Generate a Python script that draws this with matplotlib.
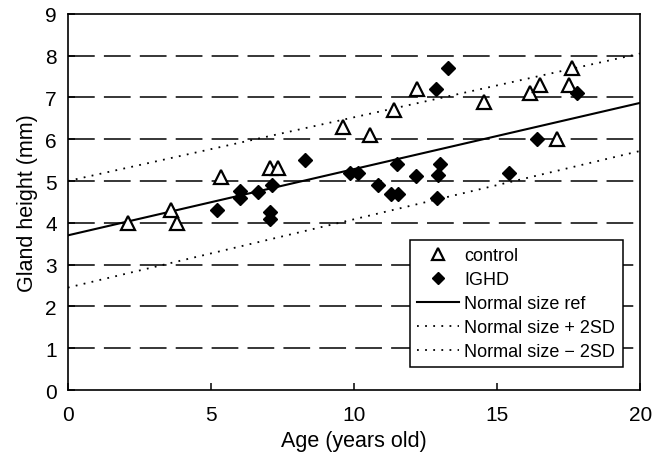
import matplotlib
matplotlib.use("Agg")
import matplotlib.pyplot as plt

plt.rcParams.update({
    "font.family": ["Liberation Sans", "DejaVu Sans"],
    "font.size": 15,
    "axes.linewidth": 1.2,
})

# --- data ---
ctrl_age = [2.1, 3.6, 3.8, 5.35, 7.05, 7.35, 9.6, 10.55, 11.4, 12.2, 14.55, 16.15, 16.5, 17.1, 17.5, 17.6]
ctrl_h   = [4.0, 4.3, 4.0, 5.1, 5.3, 5.3, 6.3, 6.1, 6.7, 7.2, 6.9, 7.1, 7.3, 6.0, 7.3, 7.7]

ighd_age = [5.2, 6.0, 6.0, 6.65, 7.05, 7.05, 7.15, 8.3, 9.85, 10.15, 10.85, 11.3, 11.55,
            11.5, 12.15, 12.9, 12.95, 13.0, 12.85, 13.3, 15.4, 16.4, 17.8]
ighd_h   = [4.3, 4.75, 4.6, 4.73, 4.25, 4.1, 4.9, 5.5, 5.2, 5.2, 4.9, 4.7, 4.7,
            5.4, 5.12, 4.6, 5.15, 5.4, 7.2, 7.7, 5.2, 6.0, 7.1]

ref_x = [0, 20]
ref_y = [3.7, 6.87]
plus_x = [0, 20]
plus_y = [5.0, 8.05]
minus_x = [0, 20]
minus_y = [2.45, 5.72]

fig = plt.figure(figsize=(6.52, 4.56), dpi=100)
ax = fig.add_axes([0.104, 0.1425, 0.878, 0.825])

for yy in range(1, 9):
    ax.axhline(yy, color="black", lw=1.1, ls=(0, (17.5, 6)), zorder=1)

ax.plot(ref_x, ref_y, color="black", lw=1.5, label="Normal size ref", zorder=2)
ax.plot(plus_x, plus_y, color="black", lw=1.3, ls=(0, (1, 3.5)), label="Normal size + 2SD", zorder=2)
ax.plot(minus_x, minus_y, color="black", lw=1.3, ls=(0, (1, 3.5)), label="Normal size \u2212 2SD", zorder=2)

ax.plot(ctrl_age, ctrl_h, ls="none", marker="^", ms=10, mfc="white", mec="black", mew=1.6,
        label="control", zorder=3)
ax.plot(ighd_age, ighd_h, ls="none", marker="D", ms=7.5, mfc="black", mec="black",
        label="IGHD", zorder=3)

ax.set_xlim(0, 20)
ax.set_ylim(0, 9)
ax.set_xticks([0, 5, 10, 15, 20])
ax.set_yticks(range(0, 10))
ax.tick_params(direction="in", length=5, width=1.1, labelsize=15)
ax.tick_params(axis="x", pad=11)
ax.tick_params(axis="y", pad=8)
ax.set_xlabel("Age (years old)", fontsize=15.5, labelpad=4)
ax.set_ylabel("Gland height (mm)", fontsize=15.5, labelpad=5)

h, l = ax.get_legend_handles_labels()
order = [3, 4, 0, 1, 2]
leg = ax.legend([h[i] for i in order], [l[i] for i in order],
                loc="lower right", bbox_to_anchor=(0.969, 0.061), fontsize=13,
                frameon=True, fancybox=False, edgecolor="black", framealpha=1,
                handlelength=2.3, handletextpad=0.3, borderpad=0.4, labelspacing=0.38,
                borderaxespad=0, markerscale=0.8)
leg.get_frame().set_linewidth(1.1)
leg.set_zorder(5)

fig.savefig("out.png", dpi=100, facecolor="white")
